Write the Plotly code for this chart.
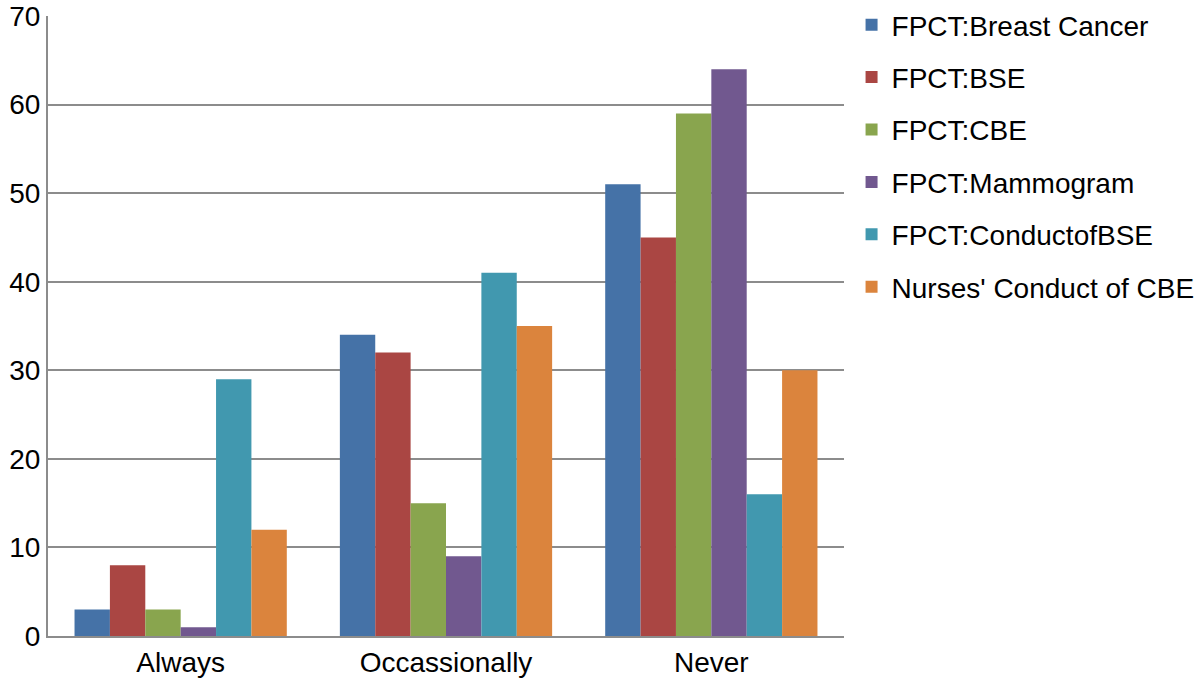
import plotly.graph_objects as go

categories = ["Always", "Occassionally", "Never"]
series_names = ["FPCT:Breast Cancer", "FPCT:BSE", "FPCT:CBE", "FPCT:Mammogram",
                "FPCT:ConductofBSE", "Nurses' Conduct of CBE"]
breast_cancer = [3, 34, 51]
bse = [8, 32, 45]
cbe = [3, 15, 59]
mammogram = [1, 9, 64]
conduct_bse = [29, 41, 16]
nurses_cbe = [12, 35, 30]
series_values = [breast_cancer, bse, cbe, mammogram, conduct_bse, nurses_cbe]
colors = ["#4572a7", "#aa4643", "#89a54e", "#71588f", "#4198af", "#db843d"]
y_ticks = [0, 10, 20, 30, 40, 50, 60, 70]

fig = go.Figure()
for i, (name, vals, col) in enumerate(zip(series_names, series_values, colors)):
    fig.add_trace(go.Bar(x=categories, y=vals, name=name, marker_color=col,
                         marker_line_width=0, legendgroup=str(i)))

font_family = "Liberation Sans, Arial, Helvetica, sans-serif"
fig.update_layout(
    width=1200, height=679,
    margin=dict(l=48, r=356, t=16, b=43, autoexpand=False),
    plot_bgcolor="white", paper_bgcolor="white",
    barmode="group", bargap=0.2, bargroupgap=0,
    font=dict(family=font_family, size=28, color="black"),
    showlegend=True,
    legend=dict(x=1.0095, xanchor="left", xref="paper",
                y=1.0, yanchor="top", yref="container",
                font=dict(size=28, color="black"),
                traceorder="grouped", tracegroupgap=13,
                itemwidth=30, bgcolor="rgba(0,0,0,0)"),
)
fig.update_xaxes(showline=True, linecolor="#8c8c8c", linewidth=2, ticks="",
                 tickfont=dict(size=28), showgrid=False, automargin=False)
fig.update_yaxes(range=[0, 70], tickvals=y_ticks, showgrid=True, gridcolor="#8c8c8c",
                 gridwidth=2, showline=True, linecolor="#8c8c8c", linewidth=2,
                 ticks="", tickfont=dict(size=28), zeroline=False, automargin=False)

fig.write_html("out.html", config={"displayModeBar": False},
               post_script="document.body.style.margin='0';document.body.style.overflow='hidden';")
